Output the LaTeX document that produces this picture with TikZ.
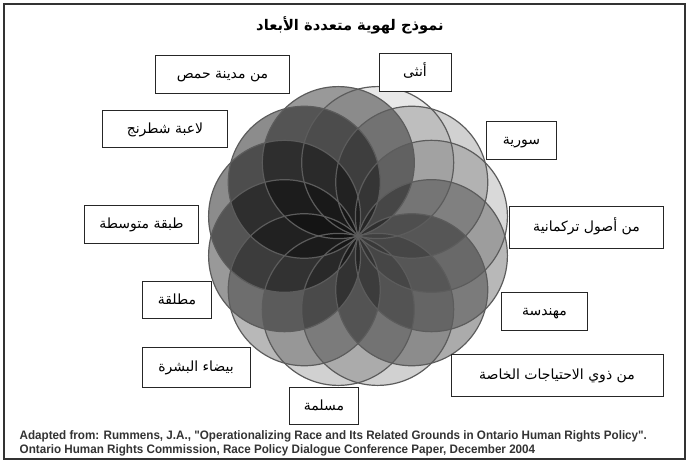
\documentclass[tikz,border=0pt]{standalone}
\usepackage{fontspec}
\usepackage{tikz}
\usetikzlibrary{positioning}
\TeXXeTstate=1
\newfontfamily\arabicfont[Script=Arabic]{DejaVu Sans}
\newfontfamily\footfont[FakeStretch=0.95]{Liberation Sans}
\definecolor{rimgray}{HTML}{5C5C5C}
\definecolor{framegray}{HTML}{333333}
\newcommand{\ar}[1]{{\arabicfont\beginR #1\endR}}

\begin{document}
\begin{tikzpicture}[
		x=0.75pt, y=-0.75pt,
		lbl/.style={
			draw=black!85,
			fill=white,
			line width=0.6pt,
			inner sep=0pt,
			minimum height=28pt,
			text height=8pt,
			text depth=2pt,
			font=\fontsize{10.5}{12}\selectfont
		},
		petal/.style={fill=black},
		rim/.style={draw=rimgray, line width=0.9pt}
		]
		
		\useasboundingbox (0,0) rectangle (690,464);
		\draw[framegray, line width=0.8pt] (4,4) rectangle (685,459);
		
		% Title
		\node at (350,25) (title) {\fontsize{11}{13}\selectfont\bfseries\ar{نموذج لهوية متعددة الأبعاد}};
		
		% Circles round one point
		\coordinate (ctr) at (358,236);
		\foreach \a/\op in {-75/0.09, -45/0.18, -15/0.15, 15/0.28, 45/0.33, 75/0.18,
			105/0.18, 135/0.28, 165/0.4, 195/0.45, 225/0.45, 255/0.4}
		\fill[petal, fill opacity=\op] ([shift={(ctr)}]\a:76) circle[radius=57pt];
		\foreach \a in {-75,-45,...,255}
		\draw[rim] ([shift={(ctr)}]\a:76) circle[radius=57pt];
		
		% Labels
		\node[lbl, minimum width=100pt] at (222.5,74.5) (hims) {\ar{من مدينة حمص}};
		\node[lbl, minimum width=54pt] at (415,72.5) (female) {\ar{أنثى}};
		\node[lbl, minimum width=53pt] at (521.5,140.5) (syrian) {\ar{سورية}};
		\node[lbl, minimum width=94pt] at (165,129) (chess) {\ar{لاعبة شطرنج}};
		\node[lbl, minimum width=86pt] at (141.5,224.5) (middle) {\ar{طبقة متوسطة}};
		\node[lbl, minimum width=115pt, minimum height=31pt] at (586.5,227.5) (turkmen) {\ar{من أصول تركمانية}};
		\node[lbl, minimum width=52pt] at (177,300) (divorced) {\ar{مطلقة}};
		\node[lbl, minimum width=64pt] at (544.5,311.5) (engineer) {\ar{مهندسة}};
		\node[lbl, minimum width=81pt, minimum height=30pt] at (196,367) (white) {\ar{بيضاء البشرة}};
		\node[lbl, minimum width=159pt, minimum height=31pt] at (557,375.5) (needs) {\ar{من ذوي الاحتياجات الخاصة}};
		\node[lbl, minimum width=52pt] at (324,406) (muslim) {\ar{مسلمة}};
		
		% Source
		\node[anchor=west, align=left, text=framegray, font=\footfont\bfseries\fontsize{9.2}{10.5}\selectfont]
		at (15,443) (source) {Adapted from: Rummens, J.A., "Operationalizing Race and Its Related Grounds in Ontario Human Rights Policy".\\
			Ontario Human Rights Commission, Race Policy Dialogue Conference Paper, December 2004};
		
	\end{tikzpicture}
\end{document}
